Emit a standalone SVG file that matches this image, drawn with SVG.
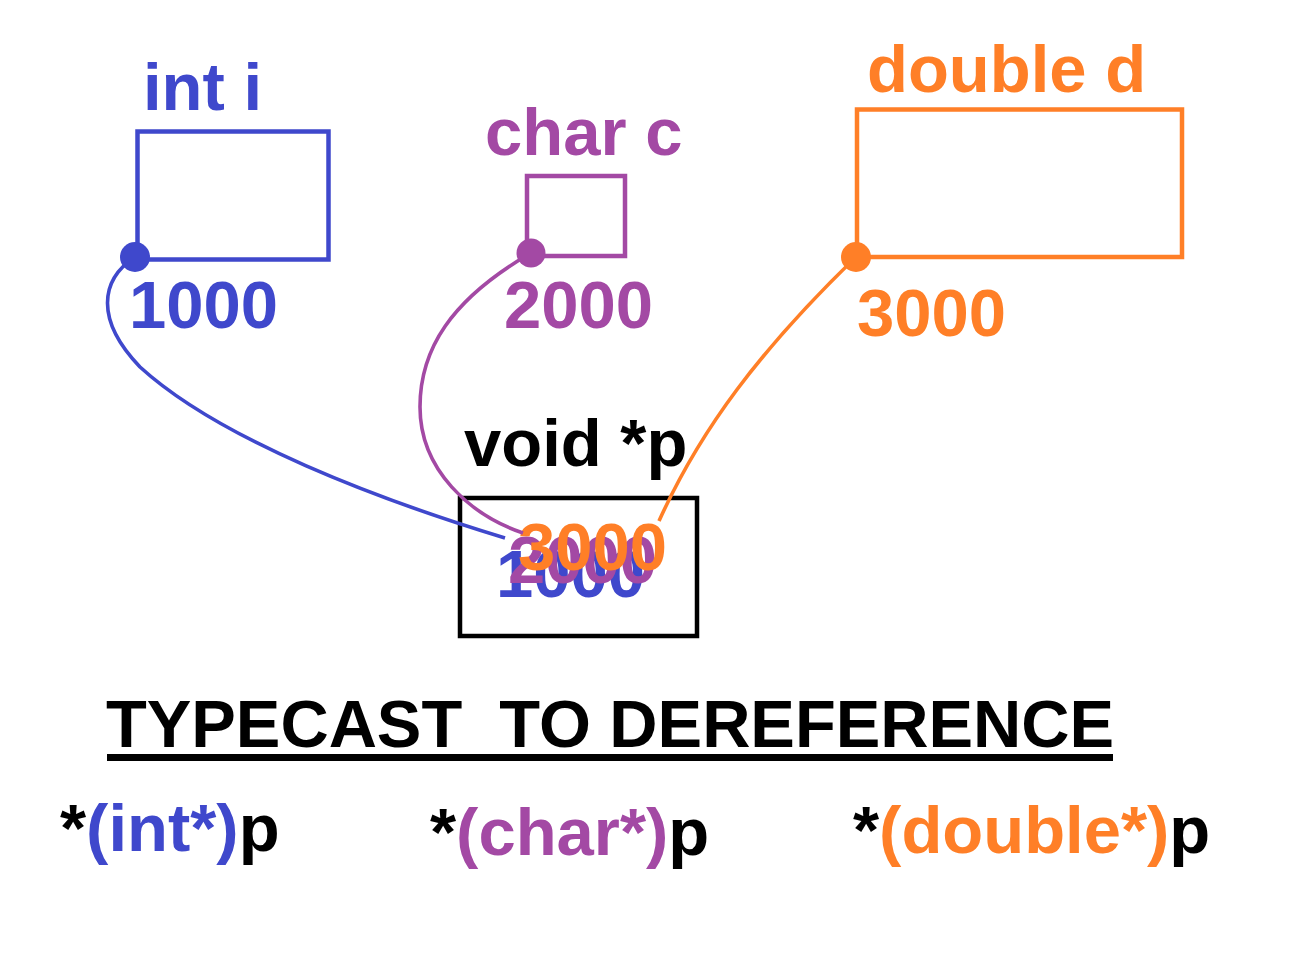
<svg xmlns="http://www.w3.org/2000/svg" width="1316" height="968" viewBox="0 0 1316 968">
<style>
text{font-family:"Liberation Sans",Arial,sans-serif;font-weight:bold;font-size:67px;white-space:pre}
.b{fill:#3F48CC}.m{fill:#A349A4}.o{fill:#FF7F27}.k{fill:#000}
.box{fill:none;stroke-width:4.5}
.ln{fill:none;stroke-width:3.6}
</style>
<rect width="1316" height="968" fill="#fff"/>
<g id="node-int">
<text class="b" x="143" y="110">int i</text>
<rect class="box" x="137.5" y="131.5" width="191" height="128" stroke="#3F48CC"/>
<text class="b" x="129" y="328">1000</text>
</g>
<g id="node-char">
<text class="m" x="485" y="155">char c</text>
<rect class="box" x="527" y="176" width="98" height="80" stroke="#A349A4"/>
<text class="m" x="504" y="328">2000</text>
</g>
<g id="node-double">
<text class="o" x="867" y="92">double d</text>
<rect class="box" x="857" y="109.5" width="325" height="147.5" stroke="#FF7F27"/>
<text class="o" x="857" y="336">3000</text>
</g>
<g id="node-p">
<text class="k" x="464" y="466">void *p</text>
<rect class="box" x="460" y="498" width="237" height="138" stroke="#000"/>
<text class="b" x="496" y="597">1000</text>
<text class="m" x="508" y="583">2000</text>
<text class="o" x="518" y="570">3000</text>
</g>
<g id="connectors">
<path class="ln" stroke="#3F48CC" d="M135,257 C100,280 95,320 140,367 C220,440 380,500 505,538"/>
<path class="ln" stroke="#A349A4" d="M531,253 C450,300 420,350 420,407 C420,470 470,515 523,533"/>
<path class="ln" stroke="#FF7F27" d="M856,257 C760,350 700,430 659,521"/>
<circle cx="135" cy="257" r="15" fill="#3F48CC"/>
<circle cx="531" cy="253" r="14.5" fill="#A349A4"/>
<circle cx="856" cy="257" r="15" fill="#FF7F27"/>
</g>
<g id="title">
<text class="k" x="106" y="747" xml:space="preserve" textLength="1008" lengthAdjust="spacingAndGlyphs">TYPECAST  TO DEREFERENCE</text>
<rect x="107" y="754" width="1006" height="7" fill="#000"/>
</g>
<g id="casts">
<text x="60" y="851"><tspan class="k">*</tspan><tspan class="b">(int*)</tspan><tspan class="k">p</tspan></text>
<text x="430" y="855"><tspan class="k">*</tspan><tspan class="m">(char*)</tspan><tspan class="k">p</tspan></text>
<text x="853" y="853"><tspan class="k">*</tspan><tspan class="o">(double*)</tspan><tspan class="k">p</tspan></text>
</g>
</svg>
